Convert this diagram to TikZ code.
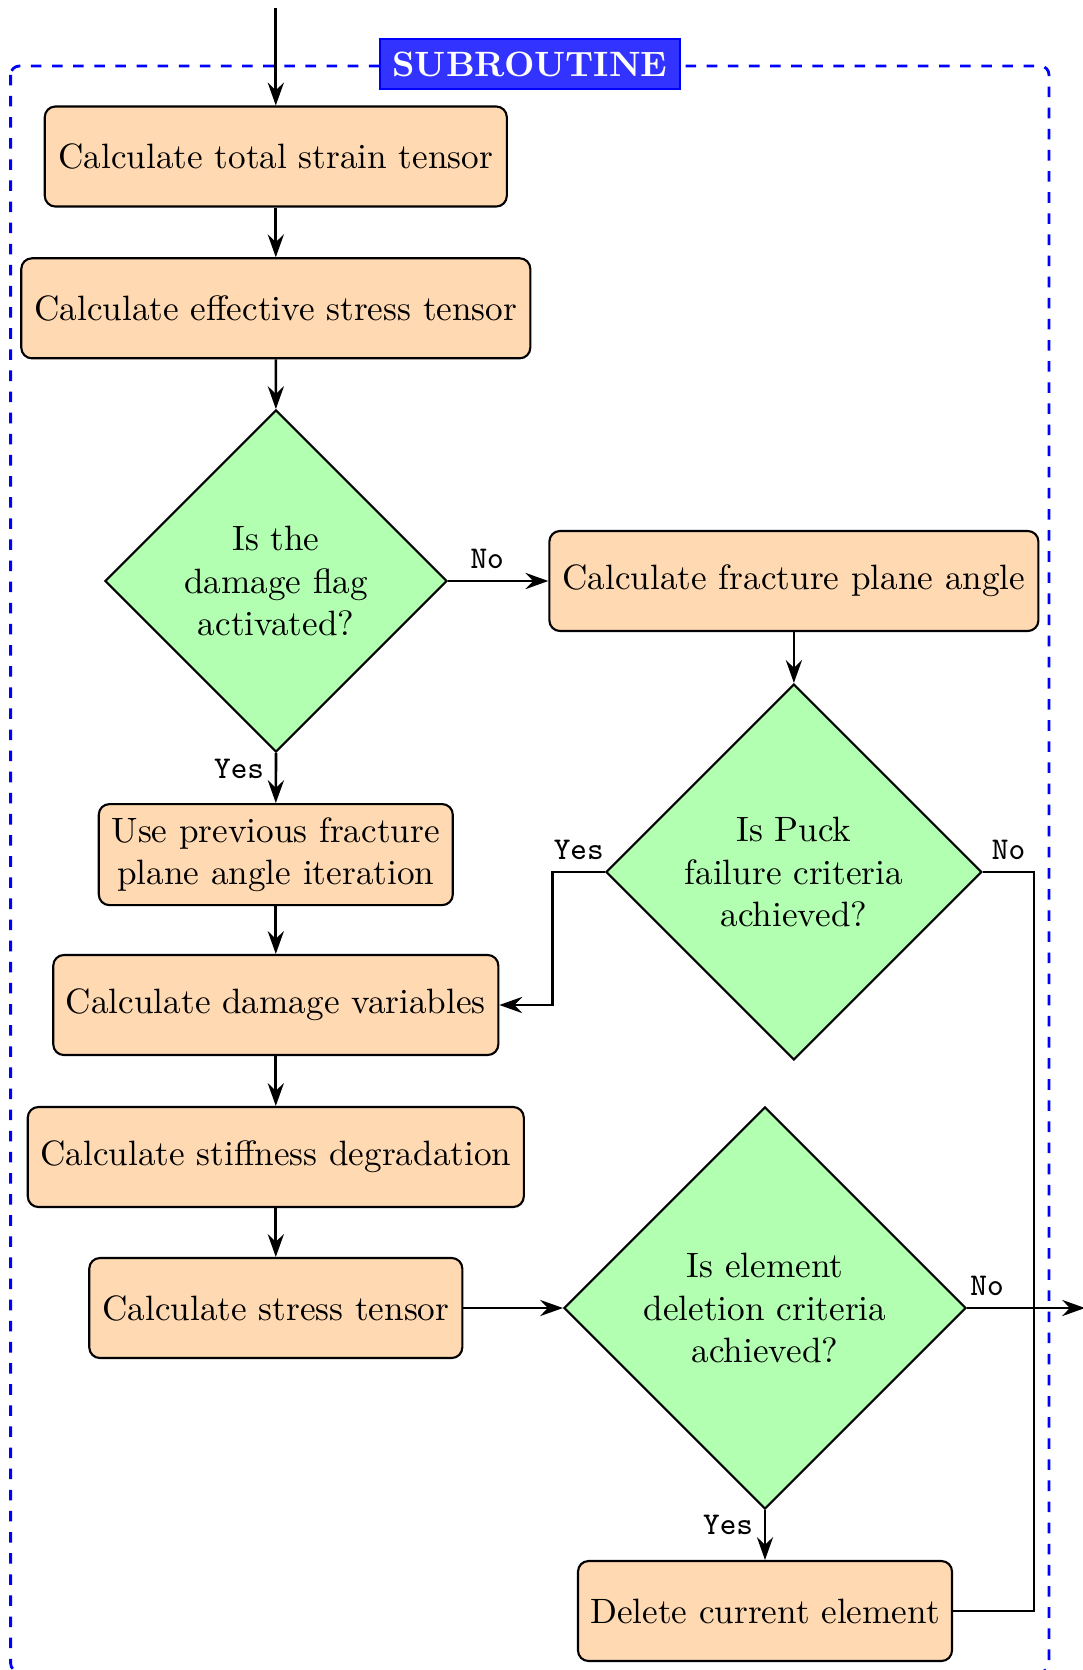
\documentclass[tikz,border=0pt]{standalone}
\usetikzlibrary{shapes.geometric,arrows.meta}
\begin{document}
\def\u{0.2841pt}
\begin{tikzpicture}[x=0.2841pt,y=-0.2841pt,
  proc/.style={draw, line width=0.6pt, fill=orange!30, rounded corners=3pt,
    minimum height=100*\u, align=center, inner sep=2pt},
  decision/.style={draw, line width=0.6pt, fill=green!30, diamond, aspect=1,
    align=center, inner sep=1pt},
  flow/.style={line width=0.75pt, -{Stealth[length=6.5pt,width=4.6pt,inset=2.2pt]}},
  link/.style={line width=0.75pt},
  lab/.style={font=\ttfamily\small, inner sep=3pt},
]
\useasboundingbox (0,0) rectangle (1083,1670);

% dashed frame around the subroutine and its title
\draw[blue, dashed, line width=0.8pt, rounded corners=2.5pt]
  (10.6,66) rectangle (1049,1672);
\node[fill=blue!80, draw=blue, text=white, font=\bfseries,
  minimum width=300*\u, minimum height=50*\u, inner sep=0pt] (title) at (530,64) {SUBROUTINE};

% process steps
\node[proc, minimum width=462*\u] (strain)    at (275.8,156.5) {Calculate total strain tensor};
\node[proc, minimum width=509*\u] (effstress) at (275.8,308.3) {Calculate effective stress tensor};
\node[decision, minimum width=342*\u, minimum height=342*\u] (flagq) at (276,581) {Is the\\damage flag\\activated?};
\node[proc, minimum width=489*\u] (fracture)  at (793.9,581) {Calculate fracture plane angle};
\node[decision, minimum width=376*\u, minimum height=376*\u] (puckq) at (793.9,872) {Is Puck\\failure criteria\\achieved?};
\node[proc, minimum width=354*\u, minimum height=101*\u] (prevangle) at (275.8,854.6) {Use previous fracture\\plane angle iteration};
\node[proc, minimum width=445*\u] (damage)    at (275.8,1005) {Calculate damage variables};
\node[proc, minimum width=496*\u] (stiff)     at (275.8,1157) {Calculate stiffness degradation};
\node[proc, minimum width=373*\u] (stress)    at (275.8,1308) {Calculate stress tensor};
\node[decision, minimum width=402*\u, minimum height=402*\u] (deleteq) at (765,1308) {Is element\\deletion criteria\\achieved?};
\node[proc, minimum width=374*\u] (delete)    at (765,1611) {Delete current element};

\coordinate (entry) at (275.8,8);
\coordinate (exit) at (1085,1308);

% connectors
\draw[flow] (entry) -- (strain);
\draw[flow] (strain) -- (effstress);
\draw[flow] (effstress) -- (flagq);
\draw[flow] (flagq.east) -- node[lab, above, pos=0.39] {No} (fracture.west);
\draw[flow] (fracture) -- (puckq);
\draw[flow] (flagq.south) -- node[lab, left, pos=0.32] {Yes} (prevangle.north);
\draw[flow] (prevangle) -- (damage);
\draw[flow] (damage) -- (stiff);
\draw[flow] (stiff) -- (stress);
\draw[flow] (stress.east) -- (deleteq.west);
\draw[flow] (deleteq.south) -- node[lab, left, pos=0.3] {Yes} (delete.north);
\draw[flow] (puckq.west) -- node[lab, above] {Yes} ++(-52.2,0) |- (damage.east);
\draw[link] (puckq.east) -- node[lab, above] {No} ++(51.2,0) |- (delete.east);
\draw[flow] (deleteq.east) -- node[lab, above, pos=0.17] {No} (exit);
\end{tikzpicture}
\end{document}
